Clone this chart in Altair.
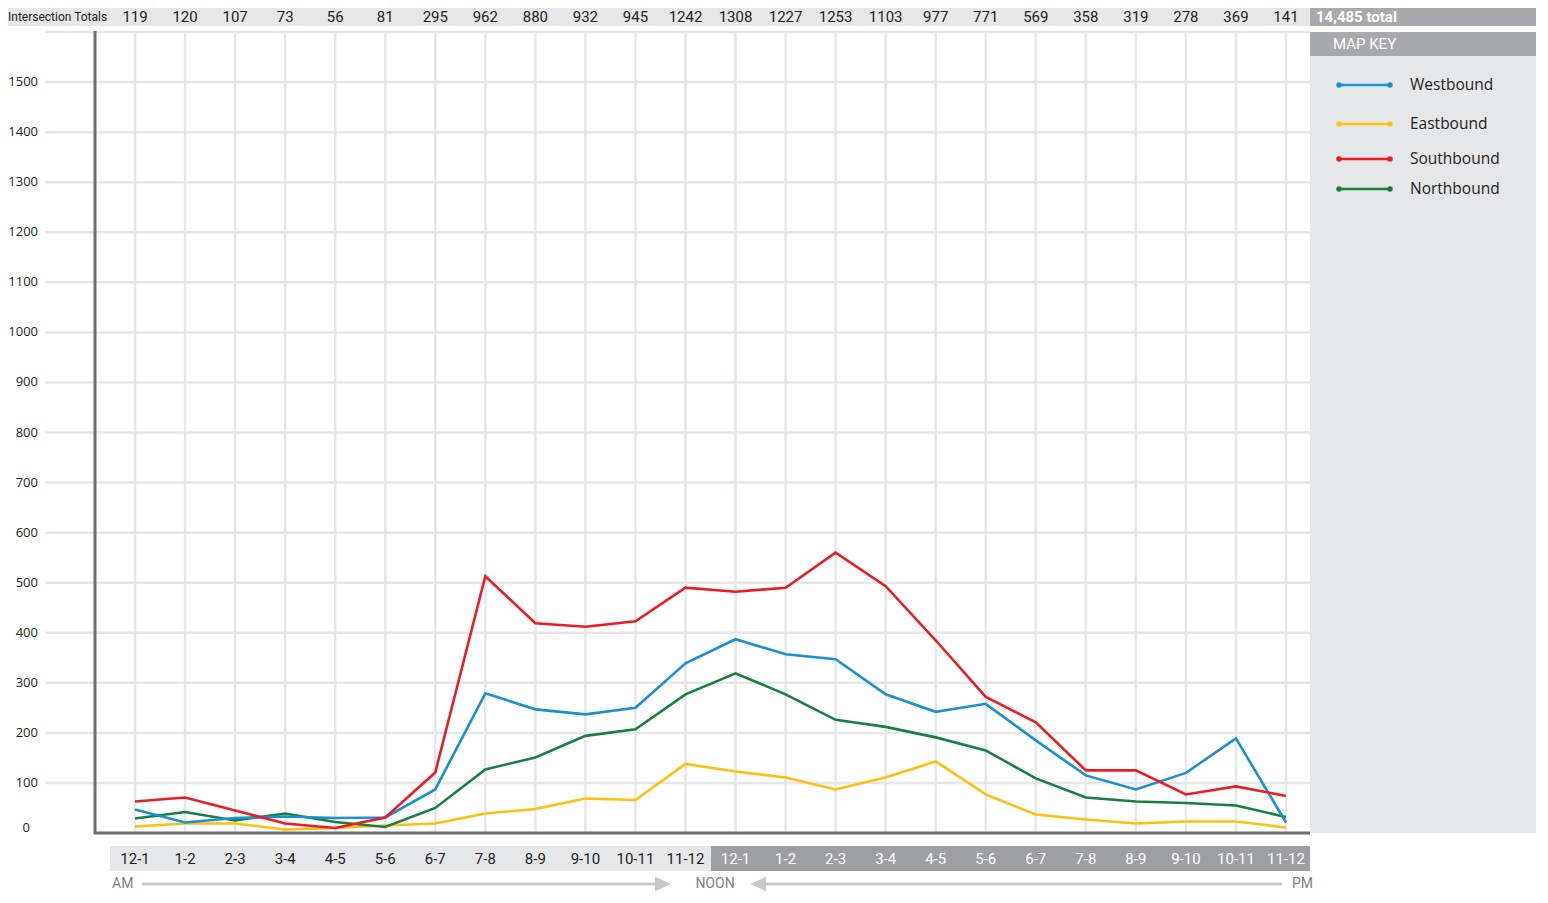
import altair as alt
import pandas as pd

# ---------------- data ----------------
hours = ["12-1", "1-2", "2-3", "3-4", "4-5", "5-6", "6-7", "7-8", "8-9", "9-10", "10-11", "11-12"] * 2
periods = ["AM"] * 12 + ["PM"] * 12
totals = [119, 120, 107, 73, 56, 81, 295, 962, 880, 932, 945, 1242,
          1308, 1227, 1253, 1103, 977, 771, 569, 358, 319, 278, 369, 141]
westbound = [47, 21, 30, 33, 30, 31, 87, 279, 247, 237, 250, 339,
             387, 357, 347, 277, 242, 258, 185, 115, 87, 120, 189, 21]
eastbound = [13, 19, 19, 7, 10, 15, 19, 39, 48, 69, 66, 138,
             123, 111, 87, 111, 143, 77, 37, 27, 19, 23, 23, 11]
southbound = [63, 71, 45, 19, 10, 31, 121, 513, 419, 412, 423, 490,
              482, 490, 560, 493, 385, 272, 221, 125, 125, 77, 93, 74]
northbound = [29, 42, 25, 39, 22, 12, 50, 127, 151, 194, 207, 277,
              319, 277, 226, 212, 191, 165, 109, 71, 63, 60, 55, 32]
series_names = ["Westbound", "Eastbound", "Southbound", "Northbound"]
series_colors = ["#1b8fd3", "#fdc010", "#ec1c24", "#15803f"]
y_ticks = list(range(0, 1600, 100))
grand_total = "14,485 total"
totals_title = "Intersection Totals"

# ---------------- tables ----------------
idx = list(range(len(hours)))
cat_df = pd.DataFrame({"idx": idx, "hour": hours, "period": periods,
                       "total": [str(t) for t in totals]})
series_values = {"Westbound": westbound, "Eastbound": eastbound,
                 "Southbound": southbound, "Northbound": northbound}
draw_order = ["Eastbound", "Northbound", "Westbound", "Southbound"]
rows = []
for s in draw_order:
    for i, v in enumerate(series_values[s]):
        rows.append({"idx": i, "series": s, "value": v})
line_df = pd.DataFrame(rows)
tick_df = pd.DataFrame({"v": y_ticks})
grid_df = pd.DataFrame({"v": y_ticks[1:] + [1600]})
one = pd.DataFrame({"a": [0]})

W, H = 1215, 801
FONT = "Open Sans"
NARROW = "Liberation Sans Narrow, Roboto, sans-serif"
LIGHT = "#e6e7e8"
DARK = "#a7a9ac"
AXIS = "#6d6e71"
TEXT = "#231f20"

xs = alt.Scale(domain=[-0.8, 23.48], nice=False, zero=False)
ys = alt.Scale(domain=[0, 1600], nice=False)
X = alt.X("idx:Q", scale=xs, axis=None)


def box(x1, x2, y1, y2, color):
    return alt.Chart(one).mark_rect(color=color).encode(
        x=alt.value(x1), x2=alt.value(x2), y=alt.value(y1), y2=alt.value(y2))


def label(text, x, y, size, color, align="left", font=FONT, weight="normal"):
    return alt.Chart(one).mark_text(
        text=text, align=align, baseline="middle", fontSize=size, color=color,
        font=font, fontWeight=weight).encode(x=alt.value(x), y=alt.value(y))


layers = []
# backgrounds
layers.append(box(-87, W, -24, -6, LIGHT))
layers.append(box(W, W + 226, -24, -6, DARK))
layers.append(box(W, W + 226, 0, H, LIGHT))
layers.append(box(W, W + 226, 0, 24, DARK))
layers.append(box(15, 616, 814, 839, LIGHT))
layers.append(box(616, W, 814, 839, "#9d9fa2"))

# grid
layers.append(alt.Chart(cat_df).mark_rule(color=LIGHT, strokeWidth=2.5).encode(
    x=X, y=alt.value(0), y2=alt.value(H)))
layers.append(alt.Chart(grid_df).mark_rule(color=LIGHT, strokeWidth=2.5).encode(
    y=alt.Y("v:Q", scale=ys, axis=None), x=alt.value(-50), x2=alt.value(W)))

# lines
layers.append(alt.Chart(line_df).mark_line(strokeWidth=2.6).encode(
    x=X, y=alt.Y("value:Q", scale=ys, axis=None),
    color=alt.Color("series:N", scale=alt.Scale(domain=series_names, range=series_colors), legend=None),
    detail="series:N"))

# axis lines
layers.append(alt.Chart(one).mark_rule(color=AXIS, strokeWidth=3).encode(
    x=alt.value(0), y=alt.value(-1), y2=alt.value(H + 1)))
layers.append(alt.Chart(one).mark_rule(color=AXIS, strokeWidth=3).encode(
    x=alt.value(-1), x2=alt.value(W), y=alt.value(H)))

# y labels
layers.append(alt.Chart(tick_df).transform_filter("datum.v > 0").mark_text(
    align="right", baseline="middle", fontSize=13, color=TEXT, font=FONT).encode(
    x=alt.value(-57), y=alt.Y("v:Q", scale=ys, axis=None), text="v:Q"))
layers.append(alt.Chart(tick_df).transform_filter("datum.v == 0").mark_text(
    align="right", baseline="middle", fontSize=13, color=TEXT, font=FONT, dy=-5, dx=-8).encode(
    x=alt.value(-57), y=alt.Y("v:Q", scale=ys, axis=None), text="v:Q"))

# totals row
layers.append(label(totals_title, -87, -15, 12, TEXT, font=NARROW))
layers.append(alt.Chart(cat_df).mark_text(
    align="center", baseline="middle", fontSize=15, color=TEXT, font=NARROW).encode(
    x=X, y=alt.value(-15), text="total:N"))
layers.append(label(grand_total, W + 6, -15, 15, "white", font=NARROW, weight="bold"))

# x labels
layers.append(alt.Chart(cat_df).transform_filter("datum.period == 'AM'").mark_text(
    align="center", baseline="middle", fontSize=15, color=TEXT, font=NARROW).encode(
    x=X, y=alt.value(827), text="hour:N"))
layers.append(alt.Chart(cat_df).transform_filter("datum.period == 'PM'").mark_text(
    align="center", baseline="middle", fontSize=15, color="white", font=NARROW).encode(
    x=X, y=alt.value(827), text="hour:N"))

# AM -> NOON <- PM
AR = "#c7c8ca"
GT = "#808285"
AY = 852
layers.append(label("AM", 17, AY, 14, GT, font=NARROW))
layers.append(alt.Chart(one).mark_rule(color=AR, strokeWidth=3).encode(
    x=alt.value(47), x2=alt.value(564), y=alt.value(AY)))
layers.append(alt.Chart(one).mark_point(shape="M-1,-0.9L1,0L-1,0.9Z", filled=True, color=AR, opacity=1, size=256).encode(
    x=alt.value(568), y=alt.value(AY)))
layers.append(label("NOON", 620, AY, 14, GT, align="center", font=NARROW))
layers.append(alt.Chart(one).mark_point(shape="M1,-0.9L-1,0L1,0.9Z", filled=True, color=AR, opacity=1, size=256).encode(
    x=alt.value(663), y=alt.value(AY)))
layers.append(alt.Chart(one).mark_rule(color=AR, strokeWidth=3).encode(
    x=alt.value(667), x2=alt.value(1187), y=alt.value(AY)))
layers.append(label("PM", 1197, AY, 14, GT, font=NARROW))

# legend
layers.append(label("MAP KEY", W + 23, 12, 15, "white", font=NARROW))
leg_y = [53, 92, 127, 157]
for name, col, ly in zip(series_names, series_colors, leg_y):
    layers.append(alt.Chart(one).mark_rule(color=col, strokeWidth=2.6).encode(
        x=alt.value(W + 29), x2=alt.value(W + 80), y=alt.value(ly)))
    layers.append(alt.Chart(one).mark_circle(color=col, opacity=1, size=30).encode(
        x=alt.value(W + 29), y=alt.value(ly)))
    layers.append(alt.Chart(one).mark_circle(color=col, opacity=1, size=30).encode(
        x=alt.value(W + 80), y=alt.value(ly)))
    layers.append(label(name, W + 100, ly, 15.5, TEXT))

chart = alt.layer(*layers).properties(
    width=W, height=H,
    autosize=alt.AutoSizeParams(type="none"),
    padding={"left": 87, "top": 24, "right": 226, "bottom": 60},
    background="white",
).configure_view(strokeWidth=0)

chart.save("out.html", embed_options={"renderer": "svg", "actions": False})
